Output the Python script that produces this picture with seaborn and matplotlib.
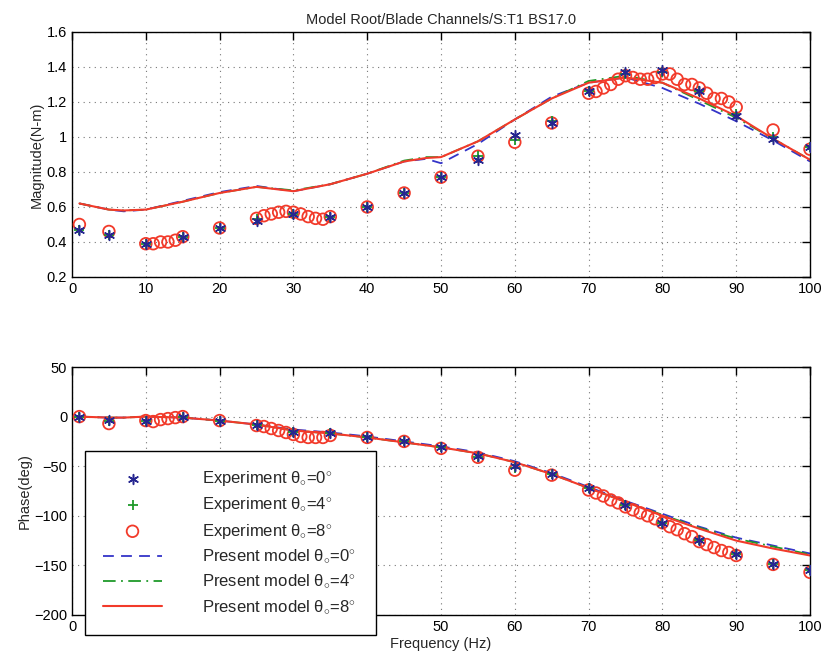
import numpy as np
import pandas as pd
import matplotlib
matplotlib.use("Agg")
import matplotlib.pyplot as plt
import seaborn as sns

sns.set_theme(style="white")
plt.rcParams['font.family'] = ['Liberation Sans', 'DejaVu Sans']
plt.rcParams['mathtext.fontset'] = 'custom'
plt.rcParams['mathtext.rm'] = 'Liberation Sans'
plt.rcParams['mathtext.it'] = 'Liberation Sans'

# ---------------- data ----------------
# experiment frequencies (theta 0 and 4)
f_exp = [1, 5, 10, 15, 20, 25, 30, 35, 40, 45, 50, 55, 60, 65, 70, 75, 80, 85, 90, 95, 100]
mag_exp0 = [0.47, 0.44, 0.39, 0.43, 0.48, 0.52, 0.56, 0.54, 0.60, 0.68, 0.77, 0.87, 1.01, 1.08, 1.26, 1.37, 1.38, 1.26, 1.12, 0.99, 0.94]
mag_exp4 = [0.47, 0.44, 0.39, 0.43, 0.48, 0.53, 0.56, 0.54, 0.60, 0.68, 0.77, 0.89, 0.98, 1.09, 1.26, 1.36, 1.37, 1.26, 1.13, 1.00, 0.94]
ph_exp0 = [0, -3, -4, 0, -4, -8, -16, -17, -21, -25, -31, -40, -50, -58, -72, -89, -107, -124, -139, -149, -155]
ph_exp4 = [0, -4, -4, 0, -4, -8, -16, -17, -21, -25, -31, -41, -52, -58, -72, -89, -107, -124, -139, -149, -155]

# experiment theta 8 (dense sweeps)
f_exp8 = [1, 5, 10, 11, 12, 13, 14, 15, 20, 25, 26, 27, 28, 29, 30, 31, 32, 33, 34, 35,
          40, 45, 50, 55, 60, 65, 70, 71, 72, 73, 74, 75, 76, 77, 78, 79, 80,
          81, 82, 83, 84, 85, 86, 87, 88, 89, 90, 95, 100]
mag_exp8 = [0.50, 0.46, 0.39, 0.39, 0.40, 0.40, 0.41, 0.43, 0.48, 0.535, 0.55, 0.56, 0.57, 0.575, 0.57, 0.56, 0.545, 0.535, 0.53, 0.545,
            0.60, 0.68, 0.77, 0.89, 0.97, 1.08, 1.25, 1.26, 1.28, 1.30, 1.33, 1.35, 1.34, 1.33, 1.33, 1.34, 1.36,
            1.36, 1.33, 1.30, 1.30, 1.28, 1.25, 1.22, 1.22, 1.20, 1.17, 1.04, 0.93]
ph_exp8 = [0, -7, -4, -5, -3, -2, -1, 0, -4, -9, -10, -12, -14, -16, -18, -20, -21, -21, -21, -19,
           -21, -25, -32, -41, -54, -59, -74, -77, -80, -84, -87, -91, -94, -97, -100, -103, -107,
           -111, -114, -118, -121, -126, -129, -132, -135, -137, -140, -149, -157]

# present model curves
f_mod = [1, 5, 7, 10, 15, 20, 25, 30, 35, 40, 45, 48, 50, 55, 60, 65, 70, 75, 80, 85, 90, 95, 100]
mag_mod0 = [0.62, 0.585, 0.575, 0.585, 0.635, 0.685, 0.72, 0.69, 0.73, 0.79, 0.86, 0.875, 0.85, 0.96, 1.10, 1.23, 1.31, 1.34, 1.28, 1.19, 1.09, 0.98, 0.86]
mag_mod4 = [0.62, 0.585, 0.58, 0.585, 0.63, 0.68, 0.715, 0.695, 0.73, 0.79, 0.865, 0.885, 0.885, 0.975, 1.10, 1.22, 1.32, 1.35, 1.31, 1.21, 1.11, 0.99, 0.87]
mag_mod8 = [0.62, 0.585, 0.58, 0.585, 0.63, 0.68, 0.715, 0.69, 0.73, 0.79, 0.86, 0.88, 0.885, 0.975, 1.10, 1.22, 1.31, 1.34, 1.31, 1.22, 1.12, 0.99, 0.87]
ph_mod0 = [0, -1, -1, 0, -1, -4, -8, -13, -16, -20, -25, -28, -30, -36, -45, -57, -71, -85, -98, -111, -122, -130, -138]
ph_mod4 = [0, -1, -1, 0, -1, -4, -8, -14, -17, -21, -26, -29, -31, -37, -46, -58, -72, -86, -99, -112, -123, -131, -139]
ph_mod8 = [0, -1, -1, 0, -1, -4, -8, -14, -17, -21, -26, -29, -31, -37, -46, -58, -72, -86, -100, -113, -125, -133, -140]

title = "Model Root/Blade Channels/S:T1 BS17.0"
x_ticks = [0, 10, 20, 30, 40, 50, 60, 70, 80, 90, 100]
x_tick_labels_bottom = ["0", "", "", "", "", "50", "60", "70", "80", "90", "100"]  # 10-40 hidden behind legend
mag_ticks = [0.2, 0.4, 0.6, 0.8, 1.0, 1.2, 1.4, 1.6]
mag_tick_labels = ["0.2", "0.4", "0.6", "0.8", "1", "1.2", "1.4", "1.6"]
ph_ticks = [-200, -150, -100, -50, 0, 50]

labels = [r"Experiment $\theta_{\circ}$=0$^{\circ}$",
          r"Experiment $\theta_{\circ}$=4$^{\circ}$",
          r"Experiment $\theta_{\circ}$=8$^{\circ}$",
          r"Present model $\theta_{\circ}$=0$^{\circ}$",
          r"Present model $\theta_{\circ}$=4$^{\circ}$",
          r"Present model $\theta_{\circ}$=8$^{\circ}$"]

BLUE = "#3434c8"
STAR = "#262690"
GREEN = "#1f9a2a"
RED = "#f23a2a"

fig = plt.figure(figsize=(8.24, 6.62), dpi=100)
ax1 = fig.add_axes([0.0874, 0.5816, 0.8956, 0.3701])
ax2 = fig.add_axes([0.0874, 0.0710, 0.8956, 0.3746])


def draw(ax, y0, y4, y8, m0, m4, m8, with_labels):
    lab = labels if with_labels else [None] * 6
    sns.lineplot(x=f_mod, y=m0, ax=ax, color=BLUE, lw=1.3, linestyle=(0, (6, 4)), label=lab[3], sort=False)
    sns.lineplot(x=f_mod, y=m4, ax=ax, color=GREEN, lw=1.3, linestyle=(0, (7, 3, 1, 3)), label=lab[4], sort=False)
    sns.lineplot(x=f_mod, y=m8, ax=ax, color=RED, lw=1.5, label=lab[5], sort=False)
    sns.scatterplot(x=f_exp8, y=y8, ax=ax, marker="o", s=70, facecolors="none", edgecolor=RED, linewidth=1.3, label=lab[2], zorder=3)
    sns.scatterplot(x=f_exp, y=y4, ax=ax, marker="+", s=55, color=GREEN, linewidth=1.3, label=lab[1], zorder=4)
    sns.scatterplot(x=f_exp, y=y0, ax=ax, marker=(6, 2, 0), s=50, color=STAR, edgecolor=STAR, linewidth=1.1, label=lab[0], zorder=5)
    ax.set_xlim(0, 100)
    ax.set_xticks(x_ticks)
    ax.grid(True, linestyle=(0, (1, 4)), color="#777777", linewidth=0.8)
    ax.tick_params(direction="in", top=True, right=True, length=6, width=1, labelsize=10.5, colors="black")
    for s in ax.spines.values():
        s.set_color("black")
        s.set_linewidth(1.0)


draw(ax1, mag_exp0, mag_exp4, mag_exp8, mag_mod0, mag_mod4, mag_mod8, False)
ax1.set_ylim(0.2, 1.6)
ax1.set_yticks(mag_ticks)
ax1.set_yticklabels(mag_tick_labels)
ax1.set_ylabel("Magnitude(N-m)", fontsize=10.5, labelpad=2)
ax1.set_xlabel("")
ax1.set_title(title, fontsize=10.5, pad=6)

draw(ax2, ph_exp0, ph_exp4, ph_exp8, ph_mod0, ph_mod4, ph_mod8, True)
ax2.set_ylim(-200, 50)
ax2.set_yticks(ph_ticks)
ax2.set_xticklabels(x_tick_labels_bottom)
ax2.set_ylabel("Phase(deg)", fontsize=10.5, labelpad=2)
ax2.set_xlabel("Frequency (Hz)", fontsize=10.5, labelpad=2)

handles, labs = ax2.get_legend_handles_labels()
order = [labs.index(l) for l in labels]
leg = ax2.legend([handles[i] for i in order], [labs[i] for i in order],
                 loc="lower left", bbox_to_anchor=(0.0176, -0.081, 0.394, 0.742), mode="expand",
                 borderaxespad=0.0,
                 frameon=True, fancybox=False, edgecolor="black", framealpha=1,
                 fontsize=12, handlelength=3.5, handletextpad=2.4, borderpad=1.1, labelspacing=0.43)
leg.get_frame().set_linewidth(1.0)
leg.set_zorder(10)

fig.savefig("out.png", dpi=100)
